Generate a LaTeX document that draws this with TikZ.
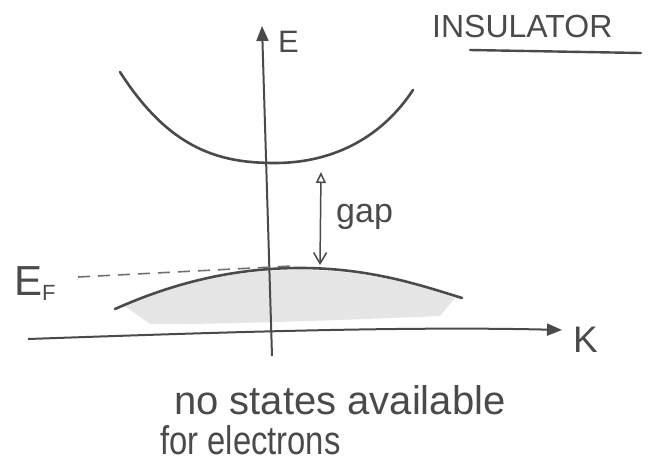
\documentclass[tikz,border=0pt]{standalone}
\usepackage{fontspec}
\usepackage{graphicx}
\setmainfont{Liberation Sans}
\usetikzlibrary{arrows.meta}
\definecolor{ink}{HTML}{4A4A4A}
\tikzset{
  pen/.style={draw=ink, line width=2.6pt, line cap=round},
  axis/.style={draw=ink, line width=2pt, -{Triangle[width=12pt,length=15pt]}},
  hand/.style={text=ink, inner sep=0pt, font=\fontsize{40}{44}\selectfont},
}
\begin{document}
\begin{tikzpicture}[x=1pt,y=-1pt]
\useasboundingbox (0,0) rectangle (648,472);
% shaded valence band
\fill[gray!20] (125,306) .. controls (185,280) and (240,270) .. (300,270) .. controls (370,270) and (420,286) .. (455,298) -- (440,316) .. controls (350,320) and (200,325) .. (150,324) -- cycle;
% coordinates
\coordinate (ybot) at (272,356);
\coordinate (ytop) at (262,26);
\coordinate (xleft) at (28,339);
\coordinate (xright) at (562,330);
\draw[axis] (ybot) -- (ytop);
\draw[axis] (xleft) .. controls (200,333) and (400,326) .. (xright);
% labels
\node[hand, anchor=base west, font=\fontsize{31}{33}\selectfont] (E) at (278,52) {E};
\node[hand, anchor=base west, font=\fontsize{37}{39}\selectfont] (K) at (573,352) {K};
\node[hand, anchor=base west, font=\fontsize{42}{44}\selectfont] (EF) at (14,295) {E\raisebox{-5pt}{\fontsize{22}{24}\selectfont F}};
\node[hand, anchor=base west, font=\fontsize{32}{34}\selectfont] (ins) at (432,37) {INSULATOR};
\coordinate (ul1) at (470,50);
\coordinate (ul2) at (641,53);
\draw[pen, line width=2.4pt] (ul1) -- (ul2);
% conduction band
\draw[pen] (120,72) .. controls (170,150) and (220,163) .. (275,163) .. controls (330,163) and (380,140) .. (413,90);
% valence band
\draw[pen] (115,309) .. controls (180,280) and (240,268) .. (300,268) .. controls (370,268) and (420,285) .. (462,298);
% Fermi level
\coordinate (f1) at (78,277);
\coordinate (f2) at (292,266);
\draw[ink!80, line width=1.6pt, dash pattern=on 12pt off 8pt] (f1) -- (f2);
% gap arrow
\coordinate (g1) at (321,172);
\coordinate (g2) at (320,265);
\draw[ink, line width=1.5pt, {Triangle[open,width=10pt,length=11pt]}-{Straight Barb[width=13pt,length=11pt]}] (g1) -- (g2);
\node[hand, anchor=base west, font=\fontsize{34}{36}\selectfont] (gap) at (336,222) {gap};
% bottom text
\node[hand, anchor=base west] (t1) at (174,414) {no states available};
\node[hand, anchor=base west] (t2) at (160,454) {\scalebox{0.82}[1]{for electrons}};
\end{tikzpicture}
\end{document}
